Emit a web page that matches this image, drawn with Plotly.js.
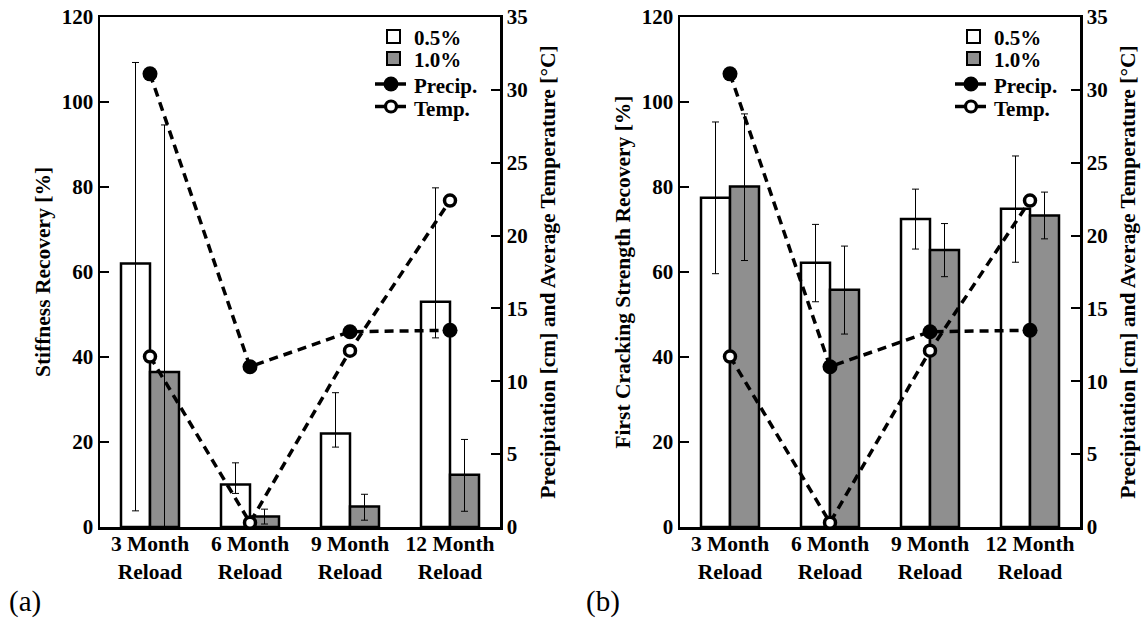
<!DOCTYPE html>
<html>
<head>
<meta charset="utf-8">
<script src="https://cdn.plot.ly/plotly-3.0.1.min.js"></script>
<style>
  html, body { margin: 0; padding: 0; background: #fff; }
  #chart { width: 1141px; height: 618px; }
</style>
</head>
<body>
<div id="chart"></div>
<script>
// Reload ages shown along the bottom
const categories = ['3 Month<br>Reload', '6 Month<br>Reload', '9 Month<br>Reload', '12 Month<br>Reload'];

// (a) Stiffness recovery [%]: mean, error-bar top and bottom
const stiff05   = [62.0, 10.0, 22.0, 53.0];
const stiff05Hi = [109.3, 15.1, 31.6, 79.8];
const stiff05Lo = [3.8, 7.9, 18.8, 44.5];
const stiff10   = [36.5, 2.5, 4.8, 12.3];
const stiff10Hi = [94.6, 4.2, 7.7, 20.6];
const stiff10Lo = [0.0, 0.7, 1.6, 3.7];

// (b) First cracking strength recovery [%]: mean, error-bar top and bottom
const crack05   = [77.5, 62.2, 72.5, 74.9];
const crack05Hi = [95.3, 71.2, 79.5, 87.3];
const crack05Lo = [59.6, 53.0, 65.4, 62.3];
const crack10   = [80.1, 55.8, 65.2, 73.3];
const crack10Hi = [97.2, 66.1, 71.4, 78.8];
const crack10Lo = [62.7, 45.4, 58.9, 67.8];

// Weather over each reload period
const precip = [31.1, 11.0, 13.4, 13.5];   // cm
const temp   = [11.7, 0.3, 12.1, 22.4];    // °C

const leftTicks  = [0, 20, 40, 60, 80, 100, 120];
const rightTicks = [0, 5, 10, 15, 20, 25, 30, 35];
const legendLabels = ['0.5%', '1.0%', 'Precip.', 'Temp.'];

const SERIF = 'Liberation Serif, Times New Roman, serif';
const GRAY = '#8f8f8f';
const W = 1141, H = 618;

function barTrace(name, vals, hi, lo, fill, xa, ya) {
  return {
    type: 'bar', name: name, x: categories, y: vals,
    xaxis: xa, yaxis: ya, showlegend: false,
    marker: { color: fill, line: { color: '#000', width: 2.5 } },
    error_y: {
      type: 'data', symmetric: false,
      array: vals.map((v, i) => hi[i] - v),
      arrayminus: vals.map((v, i) => v - lo[i]),
      color: '#000', thickness: 1, width: 3.5
    }
  };
}

function lineTrace(name, vals, open, xa, ya) {
  return {
    type: 'scatter', mode: 'lines+markers', name: name, x: categories, y: vals,
    xaxis: xa, yaxis: ya, showlegend: false, cliponaxis: false,
    line: { color: '#000', width: 3.5, dash: '9px,6px' },
    marker: open
      ? { symbol: 'circle', size: 11, color: '#fff', line: { color: '#000', width: 3.5 } }
      : { symbol: 'circle', size: 15, color: '#000', line: { color: '#000', width: 0 } }
  };
}

const data = [
  barTrace('0.5%', stiff05, stiff05Hi, stiff05Lo, '#fff', 'x', 'y'),
  barTrace('1.0%', stiff10, stiff10Hi, stiff10Lo, GRAY, 'x', 'y'),
  lineTrace('Precip.', precip, false, 'x', 'y2'),
  lineTrace('Temp.', temp, true, 'x', 'y2'),
  barTrace('0.5%', crack05, crack05Hi, crack05Lo, '#fff', 'x2', 'y3'),
  barTrace('1.0%', crack10, crack10Hi, crack10Lo, GRAY, 'x2', 'y3'),
  lineTrace('Precip.', precip, false, 'x2', 'y4'),
  lineTrace('Temp.', temp, true, 'x2', 'y4')
];

const yDom = [91 / H, 601 / H];
const tickFont  = { family: SERIF, size: 21, color: '#000', weight: 'bold' };
const titleFont = { family: SERIF, size: 21.5, color: '#000', weight: 'bold' };

function xAxis(dom, anchor) {
  return {
    domain: dom, anchor: anchor, type: 'category', range: [-0.5, 3.5],
    showline: true, linecolor: '#000', linewidth: 2.5, mirror: true,
    ticks: '', showgrid: false, zeroline: false, fixedrange: true,
    ticklabelstandoff: -4,
    tickfont: { family: SERIF, size: 21.5, color: '#000', weight: 'bold' }
  };
}

function leftAxis(anchor, title) {
  return {
    domain: yDom, anchor: anchor, range: [0, 120], tickvals: leftTicks,
    showline: true, linecolor: '#000', linewidth: 2.5,
    ticks: 'inside', ticklen: 9, tickwidth: 2, tickcolor: '#000',
    showgrid: false, zeroline: false, fixedrange: true,
    tickfont: tickFont,
    title: { text: title, font: titleFont, standoff: 6 }
  };
}

function rightAxis(over, anchor) {
  return {
    overlaying: over, anchor: anchor, side: 'right', range: [0, 35], tickvals: rightTicks,
    showline: true, linecolor: '#000', linewidth: 2.5,
    ticks: 'inside', ticklen: 9, tickwidth: 2, tickcolor: '#000',
    showgrid: false, zeroline: false, fixedrange: true,
    tickfont: tickFont,
    title: { text: 'Precipitation [cm] and Average Temperature [°C]', font: titleFont, standoff: 13 }
  };
}

// Key in the upper right of each panel, placed in pixels (ox = horizontal shift)
const px = x => x / W;
const py = y => 1 - y / H;
const shapes = [];
const annotations = [];
function addKey(ox) {
  const common = { xref: 'paper', yref: 'paper', layer: 'above' };
  shapes.push(Object.assign({ type: 'rect', x0: px(387 + ox), x1: px(400 + ox), y0: py(30), y1: py(43),
    fillcolor: '#fff', line: { color: '#000', width: 2 } }, common));
  shapes.push(Object.assign({ type: 'rect', x0: px(387 + ox), x1: px(400 + ox), y0: py(52), y1: py(65),
    fillcolor: GRAY, line: { color: '#000', width: 2 } }, common));
  [84, 106.5].forEach((yy, k) => {
    shapes.push(Object.assign({ type: 'line', x0: px(375 + ox), x1: px(406 + ox), y0: py(yy), y1: py(yy),
      line: { color: '#000', width: 3.5 } }, common));
    const r = k === 0 ? 7.5 : 5.5;
    shapes.push(Object.assign({ type: 'circle', x0: px(391 + ox - r), x1: px(391 + ox + r),
      y0: py(yy - r), y1: py(yy + r),
      fillcolor: k === 0 ? '#000' : '#fff', line: { color: '#000', width: k === 0 ? 0 : 3.2 } }, common));
  });
  [38, 60, 86, 109].forEach((yy, k) => {
    annotations.push({ text: legendLabels[k], xref: 'paper', yref: 'paper', x: px(412 + ox), y: py(yy),
      xanchor: 'left', yanchor: 'middle', showarrow: false,
      font: { family: SERIF, size: 21, color: '#000', weight: 'bold' } });
  });
}
addKey(0);
addKey(580);

annotations.push(
  { text: '(a)', xref: 'paper', yref: 'paper', x: px(25), y: py(601),
    xanchor: 'center', yanchor: 'middle', showarrow: false,
    font: { family: SERIF, size: 29, color: '#000' } },
  { text: '(b)', xref: 'paper', yref: 'paper', x: px(603), y: py(601),
    xanchor: 'center', yanchor: 'middle', showarrow: false,
    font: { family: SERIF, size: 29, color: '#000' } }
);

const layout = {
  width: W, height: H,
  margin: { l: 0, r: 0, t: 0, b: 0, autoexpand: false },
  paper_bgcolor: '#fff', plot_bgcolor: '#fff',
  barmode: 'group', bargap: 0.42, bargroupgap: 0,
  showlegend: false,
  xaxis: xAxis([100 / W, 500 / W], 'y'),
  yaxis: leftAxis('x', 'Stiffness Recovery [%]'),
  yaxis2: rightAxis('y', 'x'),
  xaxis2: xAxis([680 / W, 1080 / W], 'y3'),
  yaxis3: leftAxis('x2', 'First Cracking Strength Recovery [%]'),
  yaxis4: rightAxis('y3', 'x2'),
  shapes: shapes,
  annotations: annotations
};

Plotly.newPlot('chart', data, layout, { displayModeBar: false, staticPlot: true });
</script>
</body>
</html>
